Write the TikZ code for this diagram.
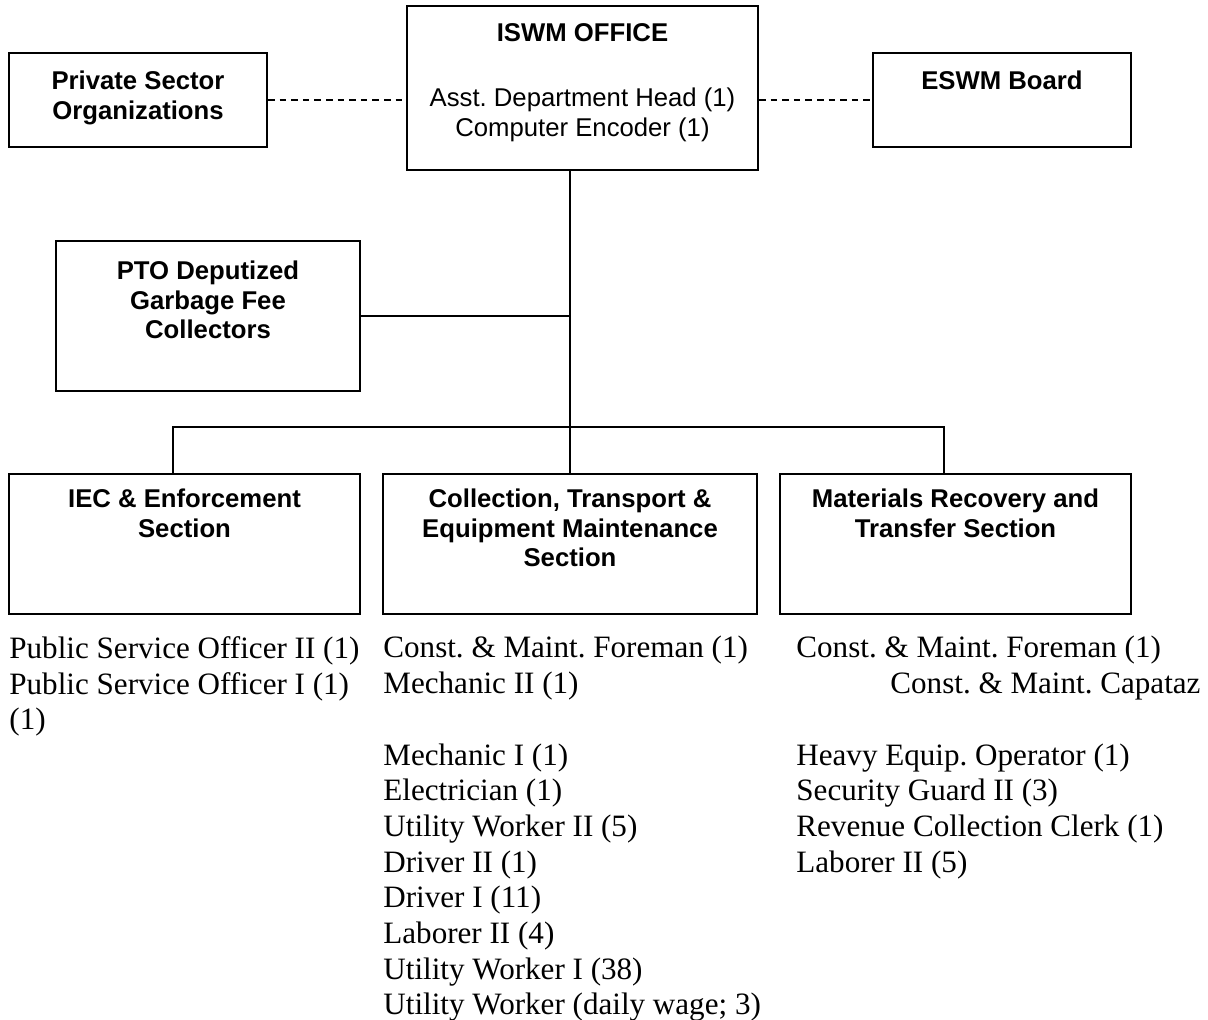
\documentclass[tikz,border=0pt]{standalone}
\usepackage{fontspec}
\setmainfont{Liberation Serif}
\setsansfont{Liberation Sans}
\usetikzlibrary{positioning}
\frenchspacing

\tikzset{
  unit/.style={draw, line width=1pt, inner sep=0pt},
  boxtitle/.style={font=\sffamily\bfseries\fontsize{12.85}{14.8}\selectfont, align=center, inner sep=0pt, anchor=north},
  boxtext/.style={font=\sffamily\fontsize{12.85}{14.8}\selectfont, align=center, inner sep=0pt, anchor=north},
  staff/.style={font=\fontsize{15.55}{17.85}\selectfont, align=left, inner sep=0pt, anchor=north west},
  link/.style={line width=1pt},
  dotlink/.style={line width=1pt, dash pattern=on 3.3pt off 2.5pt}
}

\begin{document}
\begin{tikzpicture}[x=0.5pt, y=-0.5pt]
  \def\ybus{427};
  \def\ysec{544};
  \def\ylist{636};
  \useasboundingbox (0,0) rectangle (1208,1020);
  % top row
  \node[unit, minimum width=129pt, minimum height=47pt] (priv) at (138,100) {};
  \node[unit, minimum width=175.5pt, minimum height=82pt] (iswm) at (582.5,88) {};
  \node[unit, minimum width=129pt, minimum height=47pt] (eswm) at (1002,100) {};
  \node[unit, minimum width=152pt, minimum height=75pt] (pto) at (208,316) {};
  % sections
  \node[unit, minimum width=175.5pt, minimum height=70pt] (iec) at (184.5,\ysec) {};
  \node[unit, minimum width=187pt, minimum height=70pt] (col) at (570,\ysec) {};
  \node[unit, minimum width=175.5pt, minimum height=70pt] (mrt) at (955.5,\ysec) {};
  \coordinate (busl) at (173,\ybus);
  \coordinate (busr) at (944,\ybus);
  \draw[dotlink] (priv.east) -- (priv.east -| iswm.west);
  \draw[dotlink] (eswm.west -| iswm.east) -- (eswm.west);
  \draw[link] (iswm.south -| col.north) -- (col.north);
  \draw[link] (pto.east) -- (pto.east -| col.north);
  \draw[link] (iec.north -| busl) -- (busl) -- (busr) -- (mrt.north -| busr);
  % box texts
  \node[boxtitle] (privtxt) at (138,70.5) {Private Sector\\Organizations};
  \node[boxtitle] (iswmtxt) at (582.5,23.5) {ISWM OFFICE};
  \node[boxtext] (iswmstaff) at (582.5,87.5) {Asst. Department Head (1)\\Computer Encoder (1)};
  \node[boxtitle] (eswmtxt) at (1002,70.5) {ESWM Board};
  \node[boxtitle] (ptotxt) at (208,260.5) {PTO Deputized\\Garbage Fee\\Collectors};
  \node[boxtitle] (iectxt) at (184.5,488.5) {IEC \& Enforcement\\Section};
  \node[boxtitle] (coltxt) at (570,488.5) {Collection, Transport \&\\Equipment Maintenance\\Section};
  \node[boxtitle] (mrttxt) at (955.5,488.5) {Materials Recovery and\\Transfer Section};
  % staff lists
  \node[staff] (ieclist) at (9,\ylist) {Public Service Officer II (1)\\Public Service Officer I (1)\\(1)};
  \node[staff] (collist) at (383,\ylist) {Const. \& Maint. Foreman (1)\\Mechanic II (1)\\ \mbox{}\\Mechanic I (1)\\Electrician (1)\\Utility Worker II (5)\\Driver II (1)\\Driver I (11)\\Laborer II (4)\\Utility Worker I (38)\\Utility Worker (daily wage; 3)};
  \node[staff] (mrtlist) at (796,\ylist) {Const. \& Maint. Foreman (1)\\\hspace*{47pt}Const. \& Maint. Capataz\\ \mbox{}\\Heavy Equip. Operator (1)\\Security Guard II (3)\\Revenue Collection Clerk (1)\\Laborer II (5)};
\end{tikzpicture}
\end{document}
